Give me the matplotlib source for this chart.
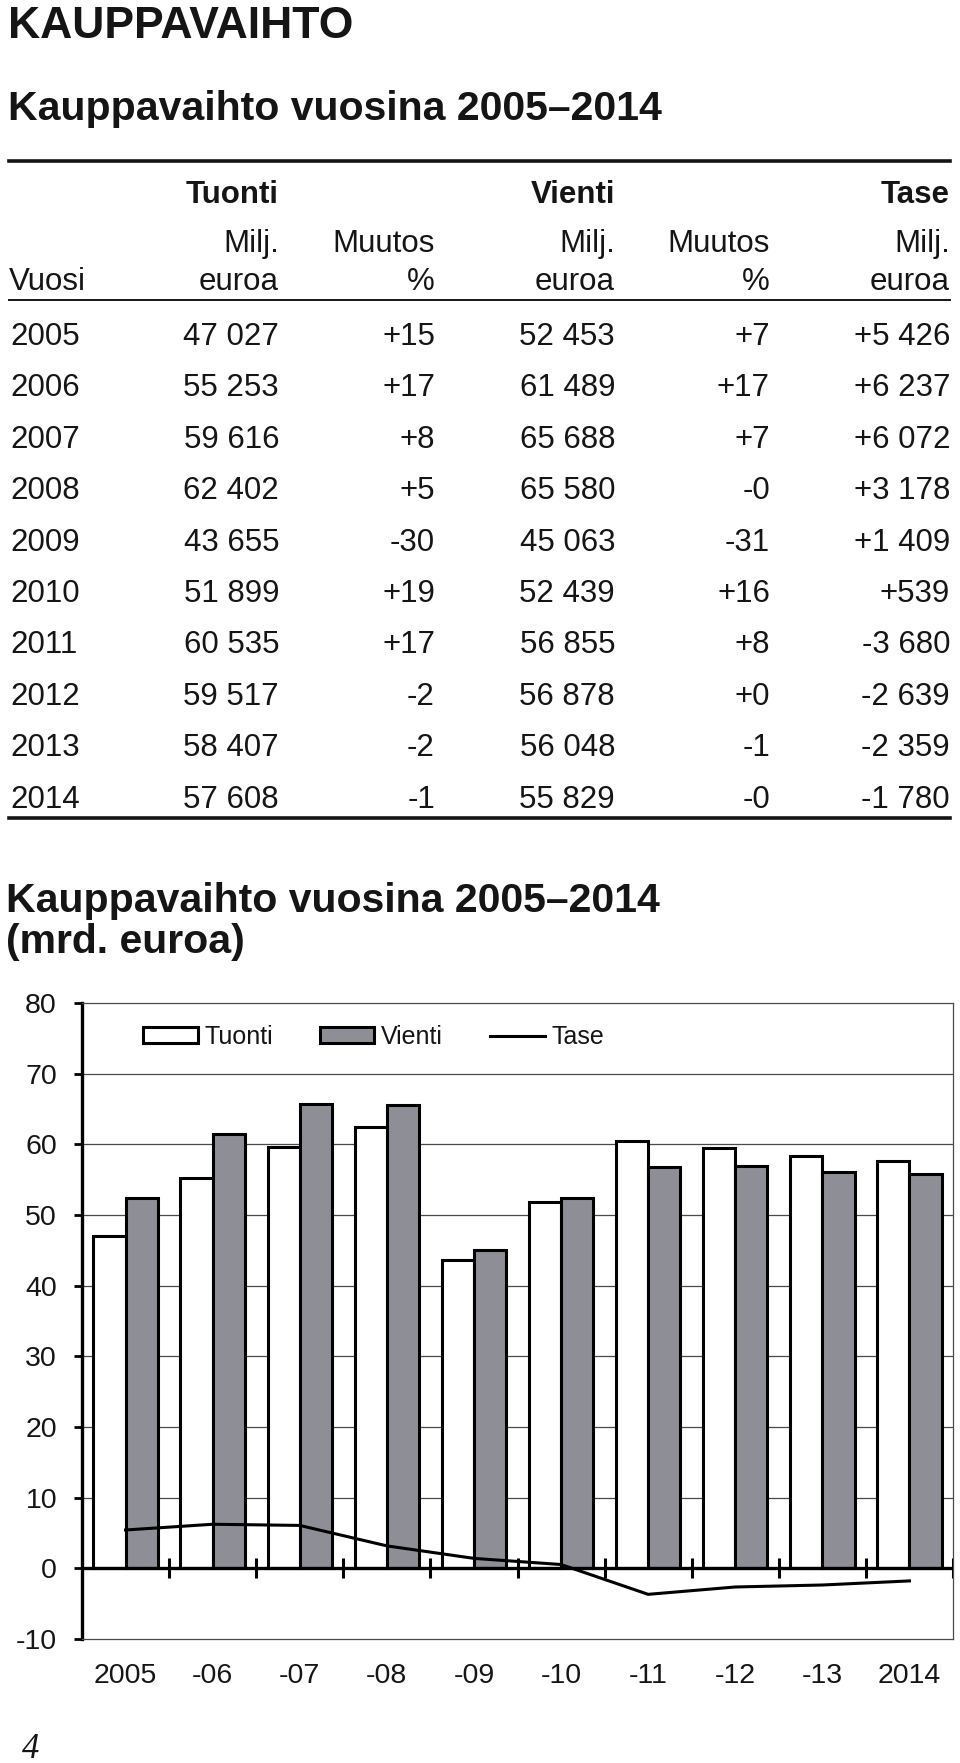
import numpy as np
import matplotlib
matplotlib.use("Agg")
import matplotlib.pyplot as plt
from matplotlib.lines import Line2D

# taulukon ja kuvion tiedot
years = ['2005', '2006', '2007', '2008', '2009', '2010', '2011', '2012', '2013', '2014']
tuonti = [47027, 55253, 59616, 62402, 43655, 51899, 60535, 59517, 58407, 57608]
tuonti_muutos = ['+15', '+17', '+8', '+5', '-30', '+19', '+17', '-2', '-2', '-1']
vienti = [52453, 61489, 65688, 65580, 45063, 52439, 56855, 56878, 56048, 55829]
vienti_muutos = ['+7', '+17', '+7', '-0', '-31', '+16', '+8', '+0', '-1', '-0']
tase = [5426, 6237, 6072, 3178, 1409, 539, -3680, -2639, -2359, -1780]
x_labels = ['2005', '-06', '-07', '-08', '-09', '-10', '-11', '-12', '-13', '2014']

plt.rcParams['font.family'] = ['Liberation Sans', 'DejaVu Sans']
plt.rcParams['axes.unicode_minus'] = False
ink = '#151515'
W, H = 960, 1763

def fx(x):
    return x / W

def fy(y):
    return 1 - y / H

fig = plt.figure(figsize=(9.6, 17.63), dpi=100)

# otsikot
fig.text(fx(8), fy(38), 'KAUPPAVAIHTO', fontsize=32, fontweight='bold', va='baseline', color=ink)
fig.text(fx(8), fy(120), 'Kauppavaihto vuosina 2005\u20132014', fontsize=29.5, fontweight='bold',
         va='baseline', color=ink)

# taulukko
def rule(y, lw):
    fig.add_artist(Line2D([fx(9), fx(950)], [fy(y), fy(y)], transform=fig.transFigure,
                          color=ink, lw=lw))

rule(161, 2.6)
rule(300, 1.4)
rule(818, 2.6)

cols = [279, 435, 615, 770, 950]
fs = 22.5
for x, t in zip([279, 615, 950], ['Tuonti', 'Vienti', 'Tase']):
    fig.text(fx(x), fy(203), t, fontsize=fs, fontweight='bold', ha='right', va='baseline', color=ink)
for x, t in zip(cols, ['Milj.', 'Muutos', 'Milj.', 'Muutos', 'Milj.']):
    fig.text(fx(x), fy(252), t, fontsize=fs, ha='right', va='baseline', color=ink)
fig.text(fx(9), fy(290), 'Vuosi', fontsize=fs, ha='left', va='baseline', color=ink)
for x, t in zip(cols, ['euroa', '%', 'euroa', '%', 'euroa']):
    fig.text(fx(x), fy(290), t, fontsize=fs, ha='right', va='baseline', color=ink)

def fmt(v, sign=False):
    s = f"{v:+,}" if sign else f"{v:,}"
    return s.replace(',', ' ')

for i in range(len(years)):
    yb = 345 + i * 51.4
    fig.text(fx(10), fy(yb), years[i], fontsize=fs, ha='left', va='baseline', color=ink)
    row = [fmt(tuonti[i]), tuonti_muutos[i], fmt(vienti[i]), vienti_muutos[i], fmt(tase[i], True)]
    for x, t in zip(cols, row):
        fig.text(fx(x), fy(yb), t, fontsize=fs, ha='right', va='baseline', color=ink)

# kuvio
fig.text(fx(6), fy(912), 'Kauppavaihto vuosina 2005\u20132014', fontsize=29.5, fontweight='bold',
         va='baseline', color=ink)
fig.text(fx(6), fy(953), '(mrd. euroa)', fontsize=29.5, fontweight='bold', va='baseline', color=ink)

ax = fig.add_axes([fx(82), fy(1639), (953 - 82) / W, (1639 - 1003) / H])
idx = np.arange(len(years))
t_mrd = np.array(tuonti) / 1000
v_mrd = np.array(vienti) / 1000
s_mrd = np.array(tase) / 1000

grid_c = '#4a4a4a'
for y in range(10, 80, 10):
    ax.axhline(y, color=grid_c, lw=0.9, zorder=1)

b1 = ax.bar(idx - 0.185, t_mrd, 0.37, color='white', edgecolor='black', lw=2.2, label='Tuonti', zorder=2)
b2 = ax.bar(idx + 0.185, v_mrd, 0.37, color='#8e8e96', edgecolor='black', lw=2.2, label='Vienti', zorder=2)
ax.axhline(0, color='black', lw=2.4, zorder=4)
ax.vlines(idx + 0.5, -1.4, 1.4, color='black', lw=2.2, zorder=4)
l1, = ax.plot(idx, s_mrd, color='black', lw=2.2, label='Tase', zorder=5)

ax.set_xlim(-0.5, len(years) - 0.5)
ax.set_ylim(-10, 80)
ax.set_yticks(range(-10, 81, 10))
ax.set_xticks(idx)
ax.set_xticklabels(x_labels)
ax.tick_params(axis='x', length=0, pad=17, labelsize=20.5, labelcolor=ink)
ax.tick_params(axis='y', direction='out', length=6, width=2.0, pad=12, labelsize=20.5, labelcolor=ink)

for side in ['top', 'right', 'bottom']:
    ax.spines[side].set_linewidth(0.9)
    ax.spines[side].set_color(grid_c)
ax.spines['left'].set_linewidth(2.4)
ax.spines['left'].set_color('black')

ax.legend([b1, b2, l1], ['Tuonti', 'Vienti', 'Tase'], loc='center left',
          bbox_to_anchor=(61 / 871, (1639 - 1037) / 636), ncol=3, frameon=False,
          fontsize=18, handlelength=2.18, handleheight=0.6, handletextpad=0.28, columnspacing=1.87,
          borderpad=0, borderaxespad=0, labelcolor=ink)

# sivunumero
fig.text(fx(22), fy(1758), '4', family='Liberation Serif', style='italic', fontsize=25,
         va='baseline', color=ink)

fig.savefig('out.png', dpi=100)
plt.close()
